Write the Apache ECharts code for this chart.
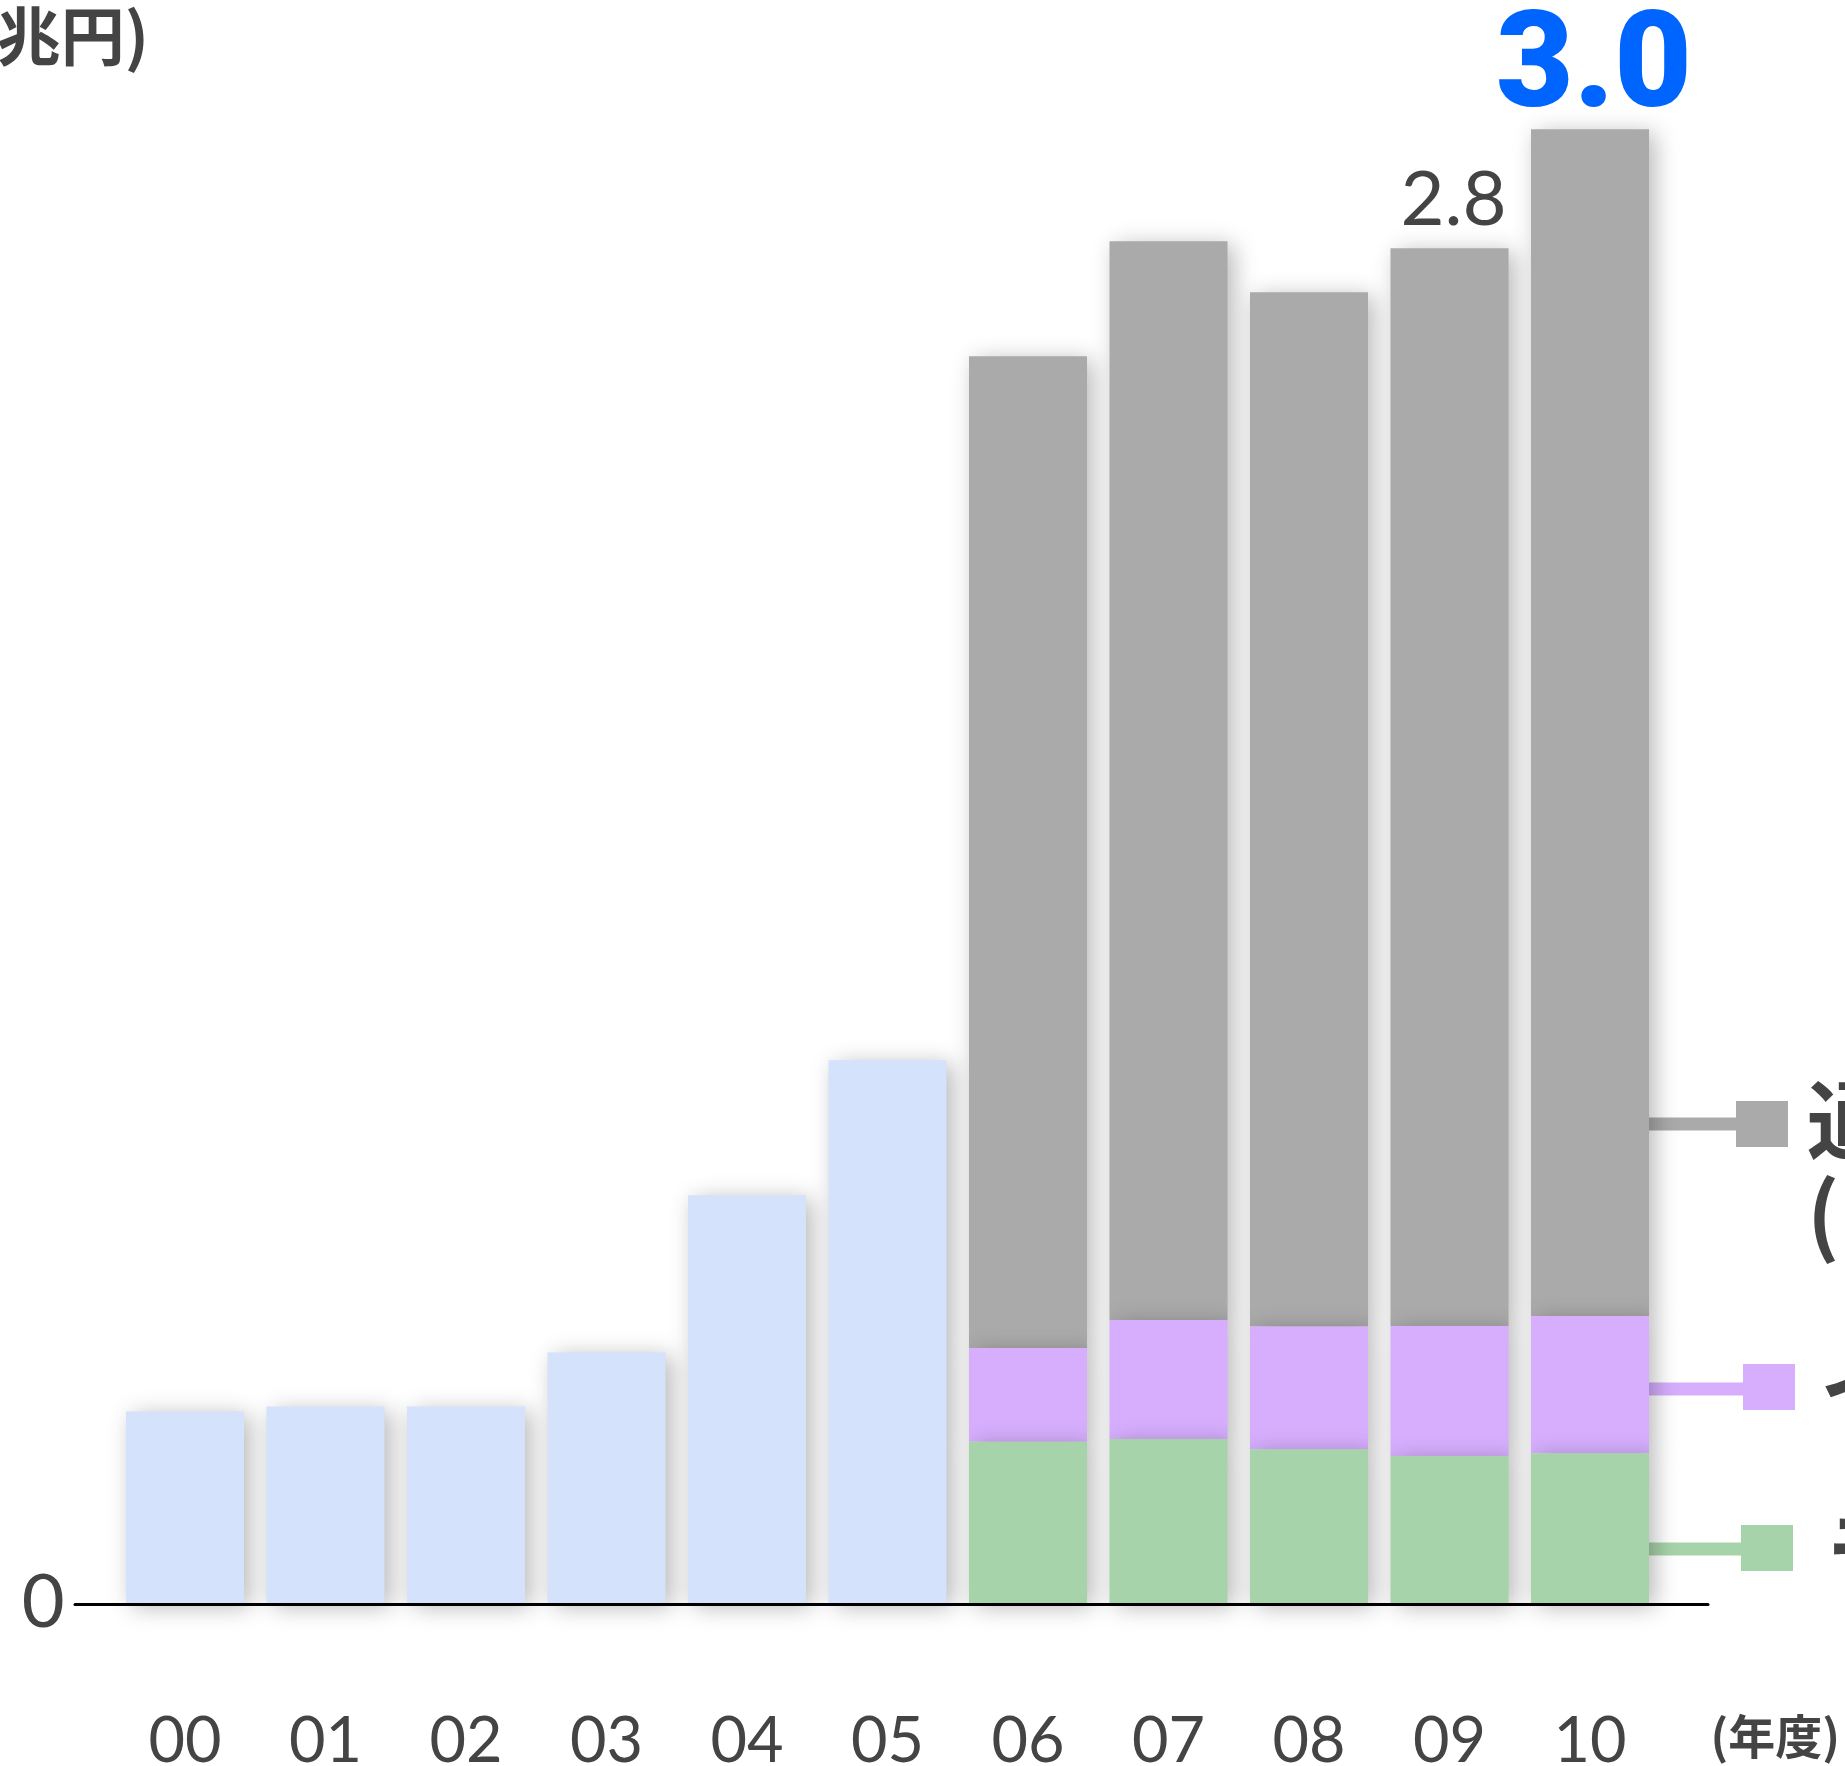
<!DOCTYPE html>
<html>
<head>
<meta charset="utf-8">
<script src="https://cdn.jsdelivr.net/npm/echarts@6/dist/echarts.min.js"></script>
<style>
html,body{margin:0;padding:0;background:#fff;}
#c{width:1845px;height:1766px;}
</style>
</head>
<body>
<div id="c"></div>
<script>
// ---- data (兆円) ----
var categories = ['00','01','02','03','04','05','06','07','08','09','10'];
var oldTotal   = [0.39, 0.40, 0.40, 0.51, 0.83, 1.105, '-', '-', '-', '-', '-'];
var greenPart  = ['-', '-', '-', '-', '-', '-', 0.328, 0.334, 0.313, 0.299, 0.305];
var purplePart = ['-', '-', '-', '-', '-', '-', 0.191, 0.242, 0.250, 0.265, 0.279];
var grayPart   = ['-', '-', '-', '-', '-', '-', 2.019, 2.196, 2.105, 2.194, 2.416];
var totalLabels = ['', '', '', '', '', '', '', '', '', '2.8', '3.0'];
var seriesNames = ['従来', 'モバイル', 'インターネット', '通信販売'];
var legendTexts = ['通信販売\n(カタログ等)', 'インターネット', 'モバイル'];
var unitText = '(単位：兆円)';
var yearText = '(年度)';

var COL_OLD = '#d4e2fb', COL_GREEN = '#a7d3aa', COL_PURPLE = '#d6aefd', COL_GRAY = '#aaaaaa';
var TXT = '#444444';
var NUMFONT = 'Lato, "Noto Sans", sans-serif';
var JPFONT = '"Noto Sans CJK JP", sans-serif';

var shadow = {shadowBlur: 22, shadowColor: 'rgba(0,0,0,0.28)', shadowOffsetX: 6, shadowOffsetY: 4};

function barStyle(c){ return Object.assign({color: c}, shadow); }

var grayData = grayPart.map(function(v, i){
  var lab = totalLabels[i];
  if (!lab) return v;
  var big = (i === categories.length - 1);
  return {
    value: v,
    label: {
      show: true, position: 'top', formatter: lab,
      distance: big ? 9 : 20,
      offset: [4, 0],
      fontFamily: big ? 'Roboto, Lato, sans-serif' : NUMFONT,
      fontWeight: big ? 900 : 'normal',
      fontSize: big ? 134 : 76,
      lineHeight: big ? 95 : 55,
      color: big ? '#0064ff' : TXT
    }
  };
});

var chart = echarts.init(document.getElementById('c'), null, {renderer: 'canvas'});
chart.setOption({
  animation: false,
  backgroundColor: '#ffffff',
  grid: [
    {left: 114.75, right: 184.75, top: 31, bottom: 163, containLabel: false, outerBoundsMode: 'none'},
    {left: 75, right: 137, top: 31, bottom: 161.5, containLabel: false, outerBoundsMode: 'none'}
  ],
  xAxis: [
    {
      type: 'category', data: categories, gridIndex: 0,
      axisLine: {show: false}, axisTick: {show: false},
      axisLabel: {margin: 139, verticalAlign: 'middle', fontSize: 63, color: TXT, fontFamily: NUMFONT}
    },
    {
      type: 'value', gridIndex: 1, min: 0, max: 1,
      axisLine: {show: true, lineStyle: {color: '#000', width: 3}},
      axisTick: {show: false}, axisLabel: {show: false}, splitLine: {show: false}
    }
  ],
  yAxis: [
    {
      type: 'value', gridIndex: 0, min: 0, max: 3.2, interval: 3.2,
      axisLine: {show: false}, axisTick: {show: false}, splitLine: {show: false},
      axisLabel: {
        margin: 50, fontSize: 74, color: TXT, fontFamily: NUMFONT, verticalAlign: 'middle',
        formatter: function(v){ return v === 0 ? '0' : ''; }
      }
    },
    {
      type: 'value', gridIndex: 1, min: 0, max: 1, show: false
    }
  ],
  series: [
    {name: seriesNames[0], type: 'bar', stack: 't', barWidth: 118, data: oldTotal, itemStyle: barStyle(COL_OLD), z: 3},
    {name: seriesNames[1], type: 'bar', stack: 't', barWidth: 118, data: greenPart, itemStyle: barStyle(COL_GREEN), z: 5},
    {name: seriesNames[2], type: 'bar', stack: 't', barWidth: 118, data: purplePart, itemStyle: barStyle(COL_PURPLE), z: 4},
    {name: seriesNames[3], type: 'bar', stack: 't', barWidth: 118, data: grayData, itemStyle: barStyle(COL_GRAY), z: 3}
  ],
  graphic: [
    {type: 'text', z: 10, style: {x: 149, y: 36, text: unitText, align: 'right', verticalAlign: 'middle', fontSize: 64, fontWeight: 'bold', fontFamily: JPFONT, fill: TXT}},
    {type: 'text', z: 10, style: {x: 1840, y: 1736, text: yearText, align: 'right', verticalAlign: 'middle', fontSize: 47, fontWeight: 'bold', fontFamily: JPFONT, fill: TXT}},
    // legend connectors and keys
    {type: 'line', z: 0, shape: {x1: 1640, y1: 1124, x2: 1740, y2: 1124}, style: {stroke: COL_GRAY, lineWidth: 13}},
    {type: 'rect', z: 10, shape: {x: 1736, y: 1101, width: 52, height: 46}, style: {fill: COL_GRAY}},
    {type: 'line', z: 0, shape: {x1: 1640, y1: 1389, x2: 1745, y2: 1389}, style: {stroke: COL_PURPLE, lineWidth: 13}},
    {type: 'rect', z: 10, shape: {x: 1743, y: 1364, width: 52, height: 46}, style: {fill: COL_PURPLE}},
    {type: 'line', z: 0, shape: {x1: 1640, y1: 1549, x2: 1743, y2: 1549}, style: {stroke: COL_GREEN, lineWidth: 13}},
    {type: 'rect', z: 10, shape: {x: 1741, y: 1525, width: 52, height: 46}, style: {fill: COL_GREEN}},
    {type: 'text', z: 10, style: {x: 1807, y: 1167, text: legendTexts[0], align: 'left', verticalAlign: 'middle', fontSize: 86, lineHeight: 94, fontWeight: 'bold', fontFamily: JPFONT, fill: TXT}},
    {type: 'text', z: 10, style: {x: 1820, y: 1387, text: legendTexts[1], align: 'left', verticalAlign: 'middle', fontSize: 86, fontWeight: 'bold', fontFamily: JPFONT, fill: TXT}},
    {type: 'text', z: 10, style: {x: 1825, y: 1549, text: legendTexts[2], align: 'left', verticalAlign: 'middle', fontSize: 86, fontWeight: 'bold', fontFamily: JPFONT, fill: TXT}}
  ]
});
</script>
</body>
</html>
